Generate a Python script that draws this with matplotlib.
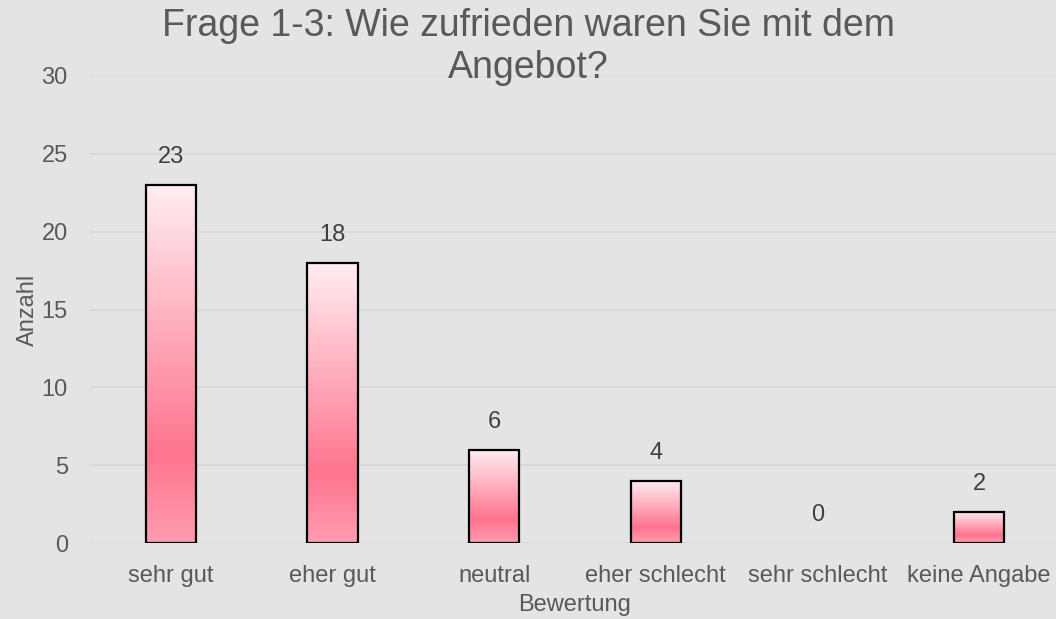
import numpy as np
import matplotlib.pyplot as plt
from matplotlib.colors import LinearSegmentedColormap

plt.rcParams['font.family'] = ['Liberation Sans', 'DejaVu Sans']

categories = ["sehr gut", "eher gut", "neutral", "eher schlecht", "sehr schlecht", "keine Angabe"]
counts = [23, 18, 6, 4, 0, 2]
title = "Frage 1-3: Wie zufrieden waren Sie mit dem\nAngebot?"

bg = '#e3e4e3'
grid_col = '#d6d7d6'
text_col = '#595959'

# gradient from bottom (0) to top (1)
bar_cmap = LinearSegmentedColormap.from_list(
    'pinkgrad', [(0.0, '#ff9db1'), (0.25, '#ff748f'), (1.0, '#ffeef2')])

fig = plt.figure(figsize=(10.56, 6.19), dpi=100, facecolor=bg)
ax = fig.add_axes([90 / 1056, 76 / 619, 970 / 1056, 467 / 619])
ax.set_facecolor(bg)

x = np.arange(len(categories))
bars = ax.bar(x, counts, width=0.31, facecolor='none', edgecolor='black', linewidth=1.6, zorder=3)

grad = np.linspace(0, 1, 256).reshape(-1, 1)
for b in bars:
    h = b.get_height()
    if h <= 0:
        b.set_linewidth(0)
        continue
    x0 = b.get_x()
    im = ax.imshow(grad, extent=[x0, x0 + b.get_width(), 0, h], origin='lower',
                   aspect='auto', cmap=bar_cmap, zorder=2)
    im.set_clip_path(b)

for xi, v in zip(x, counts):
    ax.annotate(str(v), (xi, v), xytext=(0, 20), textcoords='offset points',
                ha='center', va='center', fontsize=17, color='#404040')

ax.set_xlim(-0.5, len(categories) - 0.5)
ax.set_ylim(0, 30)
ax.set_yticks([0, 5, 10, 15, 20, 25, 30])
ax.set_xticks(x)
ax.set_xticklabels(categories)
ax.tick_params(length=0, labelsize=17, colors=text_col)
ax.tick_params(axis='y', pad=16)
ax.tick_params(axis='x', pad=16)
ax.grid(axis='y', color=grid_col, linewidth=1.2, zorder=0)
ax.set_axisbelow(True)
for s in ax.spines.values():
    s.set_visible(False)

ax.set_xlabel('Bewertung', fontsize=17, color=text_col, labelpad=5)
ax.set_ylabel('Anzahl', fontsize=17, color=text_col, labelpad=2)

fig.text(0.5, 1 - 8 / 619, title, ha='center', va='top', fontsize=27,
         color=text_col, linespacing=1.22)

fig.savefig('out.png', dpi=100, facecolor=bg)
